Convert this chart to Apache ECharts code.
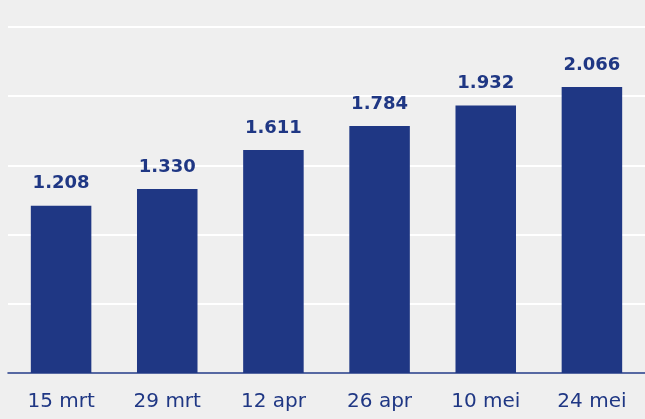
<!DOCTYPE html>
<html><head><meta charset="utf-8">
<script src="https://cdn.jsdelivr.net/npm/echarts@6/dist/echarts.min.js"></script>
<style>html,body{margin:0;padding:0;background:#efefef}#c{width:645px;height:419px}</style>
</head><body><div id="c"></div>
<script>
var categories = ["15 mrt","29 mrt","12 apr","26 apr","10 mei","24 mei"];
var values = [1208,1330,1611,1784,1932,2066];
var labels = ["1.208","1.330","1.611","1.784","1.932","2.066"];
var navy = "#1f3784";
var chart = echarts.init(document.getElementById('c'));
chart.setOption({
  backgroundColor: "#efefef",
  animation: false,
  grid: {left: 8, right: 0, top: 27, bottom: 46, containLabel: false},
  xAxis: {
    type: "category", data: categories,
    axisLine: {lineStyle: {color: navy, width: 1.5}},
    axisTick: {show: false},
    axisLabel: {color: navy, fontFamily: "DejaVu Sans", fontSize: 20, margin: 19}
  },
  yAxis: {
    type: "value", min: 0, max: 2500, interval: 500,
    axisLabel: {show: false}, axisLine: {show: false}, axisTick: {show: false},
    splitLine: {lineStyle: {color: "#ffffff", width: 2}}
  },
  series: [{
    type: "bar", data: values, barWidth: "57%",
    itemStyle: {color: navy},
    label: {show: true, position: "top", distance: 13, color: navy,
      fontFamily: "DejaVu Sans", fontWeight: "bold", fontSize: 18,
      formatter: function(p){ return labels[p.dataIndex]; }}
  }]
});
</script></body></html>
